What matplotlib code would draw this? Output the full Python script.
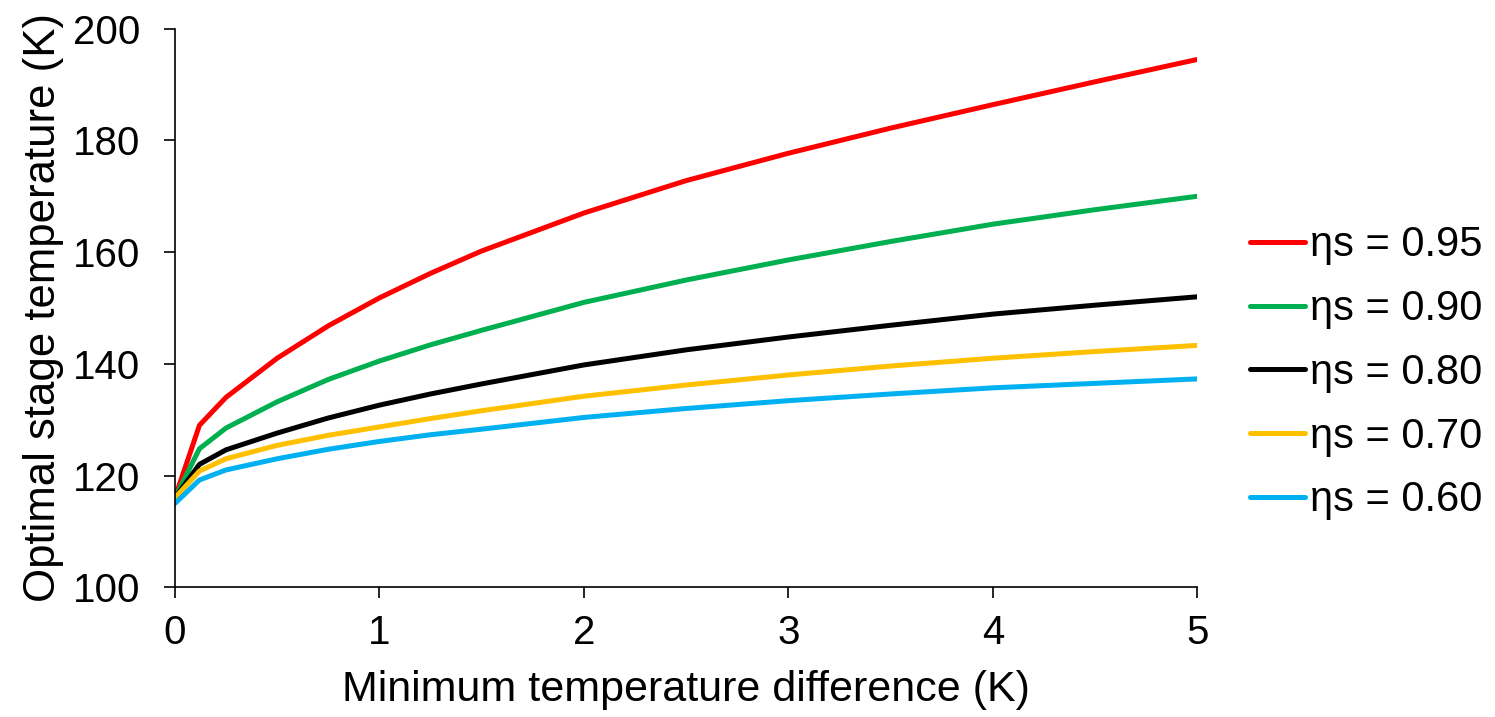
import matplotlib.pyplot as plt

# Data
dt = [0, 0.12, 0.25, 0.5, 0.75, 1, 1.25, 1.5, 2, 2.5, 3, 3.5, 4, 4.5, 5]

t_095 = [116, 129, 134, 141, 146.8, 151.8, 156.2, 160.2, 167, 172.8, 177.7, 182.2, 186.4, 190.5, 194.5]
t_090 = [116, 124.8, 128.5, 133.2, 137.2, 140.5, 143.4, 146, 151, 155, 158.6, 161.9, 165, 167.6, 170]
t_080 = [116, 122, 124.6, 127.6, 130.3, 132.6, 134.6, 136.4, 139.8, 142.5, 144.8, 146.9, 148.9, 150.5, 152]
t_070 = [116, 120.8, 123, 125.4, 127.2, 128.7, 130.2, 131.6, 134.2, 136.2, 138, 139.6, 141, 142.2, 143.3]
t_060 = [115, 119.2, 121, 123, 124.7, 126.1, 127.3, 128.3, 130.4, 132, 133.4, 134.6, 135.7, 136.5, 137.3]

series = [t_095, t_090, t_080, t_070, t_060]
labels = ["ηs = 0.95", "ηs = 0.90", "ηs = 0.80", "ηs = 0.70", "ηs = 0.60"]
colors = ["#FF0000", "#00B050", "#000000", "#FFC000", "#00B0F0"]

x_ticks = [0, 1, 2, 3, 4, 5]
y_ticks = [100, 120, 140, 160, 180, 200]

plt.rcParams["font.family"] = ["Liberation Sans", "DejaVu Sans"]

fig = plt.figure(figsize=(14.95, 7.17), dpi=100)
ax = fig.add_axes([0.117, 0.181, 0.684, 0.779])

for y, lab, c in zip(series, labels, colors):
    ax.plot(dt, y, color=c, lw=3.6, label=lab, solid_capstyle="round",
            solid_joinstyle="round")

ax.set_xlim(0, 5)
ax.set_ylim(100, 200)
ax.set_xticks(x_ticks)
ax.set_yticks(y_ticks)
ax.tick_params(labelsize=29, direction="out", length=8, width=1.2)
ax.tick_params(axis="y", pad=17)
ax.tick_params(axis="x", pad=11)
for side in ("top", "right"):
    ax.spines[side].set_visible(False)
for side in ("left", "bottom"):
    ax.spines[side].set_linewidth(1.2)

ax.set_xlabel("Minimum temperature difference (K)", fontsize=31, labelpad=13)
ax.set_ylabel("Optimal stage temperature (K)", fontsize=31.5, labelpad=6)

fig.legend(loc="center left", bbox_to_anchor=(0.825, 0.480), frameon=False,
           fontsize=30, handlelength=1.32, handletextpad=0.12, labelspacing=0.57,
           borderaxespad=0)

fig.savefig("out.png", dpi=100)
